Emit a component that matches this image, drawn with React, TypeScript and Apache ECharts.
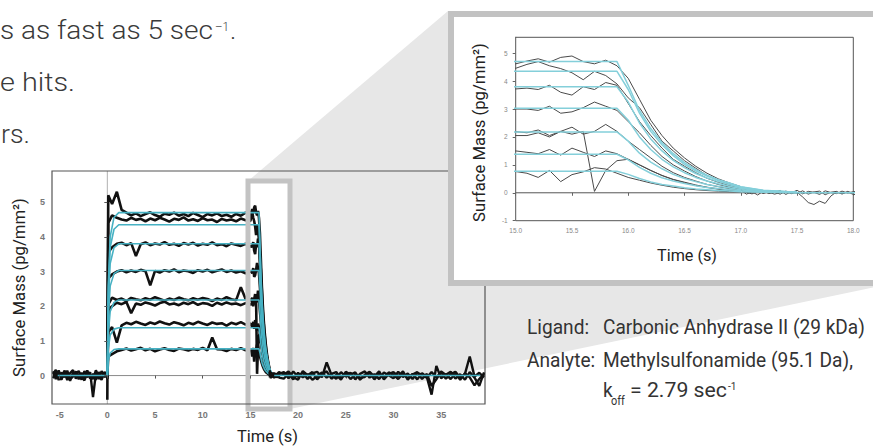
import React, { useEffect, useRef } from "react";
import * as echarts from "echarts";

// ---- axis ticks ----
const MAIN_X_TICKS = [-5, 0, 5, 10, 15, 20, 25, 30, 35];
const MAIN_Y_TICKS = [0, 1, 2, 3, 4, 5];
const INSET_X_TICKS = [15, 15.5, 16, 16.5, 17, 17.5, 18];
const INSET_Y_TICKS = [-1, 0, 1, 2, 3, 4, 5];

// ---- time grids (s) ----
const PRE_T = [-5.7, -5.4, -5.1, -4.8, -4.5, -4.2, -3.9, -3.6, -3.3, -3.0, -2.7, -2.4, -2.1, -1.8, -1.5, -1.2, -0.9, -0.6, -0.3, 0];
const RISE_T = [0, 0.1];
const PLATEAU_T = [0.5, 1, 1.5, 2, 2.5, 3, 3.5, 4, 4.5, 5, 5.5, 6, 6.5, 7, 7.5, 8, 8.5, 9, 9.5, 10, 10.5, 11, 11.5, 12, 12.5, 13, 13.5, 14, 14.5, 15];
const DECAY_T = [15.1, 15.2, 15.3, 15.4, 15.5, 15.6, 15.7, 15.8, 15.9, 16.0, 16.1, 16.2, 16.3, 16.4, 16.5, 16.6, 16.7, 16.8, 16.9, 17.0];
const TAIL_FINE_T = [17.05, 17.1, 17.15, 17.2, 17.25, 17.3, 17.35, 17.4, 17.45, 17.5, 17.55, 17.6, 17.65, 17.7, 17.75, 17.8, 17.85, 17.9, 17.95, 18.0];
const TAIL_COARSE_T = [18.5, 19, 19.5, 20, 20.5, 21, 21.5, 22, 22.5, 23, 23.5, 24, 24.5, 25, 25.5, 26, 26.5, 27, 27.5, 28, 28.5, 29, 29.5, 30, 30.5, 31, 31.5, 32, 32.5, 33, 33.5, 34, 34.5, 35, 35.5, 36, 36.5, 37, 37.5, 38, 38.5, 39, 39.5];

// ---- baseline before injection (pg/mm²) ----
const PRE_1 = [0.12, -0.10, 0.15, -0.06, 0.11, -0.13, 0.07, 0.16, -0.09, 0.05, -0.12, 0.13, -0.05, 0.10, -0.62, 0.06, -0.10, 0.13, -0.04, 0.0];
const PRE_2 = [-0.08, 0.11, -0.13, 0.09, -0.05, 0.14, -0.10, -0.03, 0.12, -0.11, 0.08, -0.07, 0.15, -0.09, 0.05, -0.12, 0.10, -0.05, 0.09, 0.0];
const PRE_3 = [0.04, 0.16, -0.02, -0.12, 0.14, 0.02, -0.15, 0.09, 0.03, 0.13, -0.04, -0.14, 0.08, 0.02, -0.10, 0.15, -0.02, -0.12, 0.10, 0.0];

// ---- measured traces: rise, plateau, dissociation ----
const TRACE1_RISE = [-0.70, 5.20];
const TRACE1_PLATEAU = [4.95, 5.30, 4.78, 4.70, 4.62, 4.68, 4.60, 4.66, 4.71, 4.63, 4.58, 4.67, 4.64, 4.70, 4.61, 4.66, 4.60, 4.69, 4.63, 4.57, 4.66, 4.62, 4.68, 4.60, 4.64, 4.58, 4.66, 4.61, 4.70, 4.62];
const TRACE1_DECAY = [4.72, 4.80, 4.68, 4.85, 4.90, 4.70, 4.62, 4.75, 4.55, 4.10, 3.35, 2.60, 2.05, 1.60, 1.25, 0.95, 0.70, 0.50, 0.35, 0.22];

const TRACE2_RISE = [0.05, 4.40];
const TRACE2_PLATEAU = [4.62, 4.55, 4.50, 4.47, 4.55, 4.49, 4.52, 4.45, 4.53, 4.48, 4.55, 4.50, 4.44, 4.52, 4.49, 4.56, 4.47, 4.51, 4.46, 4.54, 4.48, 4.50, 4.43, 4.52, 4.47, 4.50, 4.45, 4.53, 4.48, 4.46];
const TRACE2_DECAY = [4.60, 4.70, 4.55, 4.45, 4.30, 4.05, 4.35, 4.20, 3.90, 3.40, 3.05, 2.45, 1.85, 1.50, 1.15, 0.88, 0.62, 0.45, 0.30, 0.18];

const TRACE3_RISE = [0, 3.55];
const TRACE3_PLATEAU = [3.70, 3.80, 3.83, 3.76, 3.82, 3.45, 3.79, 3.84, 3.76, 3.81, 3.78, 3.85, 3.77, 3.80, 3.74, 3.82, 3.78, 3.83, 3.75, 3.80, 3.77, 3.84, 3.76, 3.79, 3.73, 3.81, 3.77, 3.74, 3.80, 3.72];
const TRACE3_DECAY = [3.75, 3.70, 3.85, 3.60, 3.50, 3.80, 3.70, 3.95, 3.85, 3.20, 2.55, 2.05, 1.60, 1.20, 0.95, 0.72, 0.52, 0.38, 0.26, 0.15];

const TRACE4_RISE = [-0.10, 2.80];
const TRACE4_PLATEAU = [2.92, 3.00, 3.04, 2.98, 3.03, 2.99, 3.05, 3.01, 2.60, 3.02, 2.97, 3.04, 3.00, 3.06, 2.98, 3.03, 3.01, 2.96, 3.04, 3.00, 3.05, 2.98, 3.02, 3.06, 2.99, 3.03, 2.97, 3.01, 2.95, 3.00];
const TRACE4_DECAY = [3.00, 2.95, 3.10, 2.85, 2.90, 3.05, 3.25, 3.10, 2.95, 2.55, 2.15, 1.70, 1.30, 1.00, 0.78, 0.58, 0.42, 0.30, 0.20, 0.12];

const TRACE5_RISE = [0.10, 2.05];
const TRACE5_PLATEAU = [2.25, 2.18, 2.22, 2.15, 2.24, 2.20, 2.17, 2.23, 2.19, 2.26, 2.21, 2.16, 2.22, 2.18, 2.25, 2.20, 2.17, 2.23, 2.19, 2.24, 2.21, 2.15, 2.22, 2.18, 2.26, 2.20, 2.17, 2.55, 2.21, 2.19];
const TRACE5_DECAY = [2.15, 2.25, 2.05, 2.20, 2.35, 2.10, 2.20, 2.45, 2.20, 1.85, 1.55, 1.25, 0.95, 0.72, 0.55, 0.42, 0.30, 0.22, 0.15, 0.10];

const TRACE6_RISE = [0, 1.90];
const TRACE6_PLATEAU = [2.00, 2.10, 2.06, 2.12, 1.80, 2.08, 2.04, 2.11, 2.07, 2.02, 2.09, 2.13, 2.05, 2.08, 2.03, 2.10, 2.06, 2.12, 2.04, 2.09, 2.07, 2.01, 2.10, 2.05, 2.11, 2.06, 2.08, 2.03, 2.09, 2.05];
const TRACE6_DECAY = [2.05, 2.15, 2.00, 2.20, 2.10, 2.20, 0.05, 0.80, 1.15, 1.20, 1.00, 0.80, 0.62, 0.47, 0.36, 0.26, 0.19, 0.13, 0.08, 0.05];

const TRACE7_RISE = [-0.05, 1.25];
const TRACE7_PLATEAU = [1.40, 0.95, 1.45, 1.52, 1.48, 1.55, 1.50, 1.46, 1.53, 1.49, 1.56, 1.51, 1.47, 1.54, 1.50, 1.45, 1.52, 1.48, 1.55, 1.50, 1.46, 1.53, 1.49, 1.51, 1.44, 1.52, 1.48, 1.54, 1.47, 1.50];
const TRACE7_DECAY = [1.45, 1.40, 1.55, 1.35, 1.60, 1.45, 1.30, 1.50, 1.40, 1.20, 1.00, 0.80, 0.62, 0.48, 0.38, 0.28, 0.20, 0.14, 0.10, 0.06];

const TRACE8_RISE = [0.02, 0.55];
const TRACE8_PLATEAU = [0.62, 0.70, 0.74, 0.78, 0.72, 0.76, 0.80, 0.73, 0.77, 0.70, 0.75, 0.79, 0.74, 0.71, 0.78, 0.76, 0.72, 0.77, 0.74, 0.80, 0.73, 1.10, 0.76, 0.75, 0.71, 0.77, 0.74, 0.79, 0.73, 0.76];
const TRACE8_DECAY = [0.70, 0.55, 0.80, 0.40, 0.65, 0.75, 0.90, 0.85, 0.70, 0.55, 0.45, 0.35, 0.27, 0.20, 0.15, 0.11, 0.08, 0.06, 0.04, 0.03];

// ---- baseline after dissociation ----
const TAIL1_FINE = [0.12, 0.05, 0.10, -0.02, 0.08, 0.03, -0.05, 0.06, 0.00, 0.09, -0.04, 0.05, 0.02, -0.06, 0.07, 0.01, -0.03, 0.06, -0.01, 0.04];
const TAIL1_COARSE = [0.10, -0.08, 0.12, -0.04, 0.09, -0.10, 0.06, 0.11, -0.05, 0.38, 0.02, -0.09, 0.10, -0.03, 0.08, -0.11, 0.05, 0.12, -0.06, 0.04, -0.10, 0.09, 0.01, -0.08, 0.11, -0.04, 0.06, -0.10, 0.08, 0.02, -0.06, 0.10, -0.05, 0.09, -0.09, 0.04, 0.11, -0.06, 0.05, 0.55, -0.03, 0.08, -0.05];
const TAIL2_FINE = [-0.05, 0.04, -0.08, 0.06, -0.03, 0.02, 0.08, -0.06, 0.04, -0.02, 0.07, -0.05, 0.03, 0.06, -0.07, 0.02, 0.05, -0.04, 0.03, -0.06];
const TAIL2_COARSE = [-0.09, 0.06, -0.11, 0.08, -0.05, 0.04, -0.12, -0.02, 0.09, -0.06, 0.05, 0.10, -0.08, 0.06, -0.10, 0.03, -0.06, -0.04, 0.08, -0.11, 0.05, -0.06, 0.09, 0.03, -0.10, 0.06, -0.08, 0.05, -0.11, 0.07, -0.04, -0.55, 0.28, -0.08, 0.04, -0.10, 0.06, -0.12, 0.07, -0.05, -0.28, -0.10, 0.05];
const TAIL3_FINE = [0.02, -0.04, 0.05, -0.02, 0.03, -0.05, 0.01, 0.04, -0.03, 0.02, -0.15, -0.35, -0.42, -0.30, -0.38, -0.12, 0.03, -0.04, 0.05, -0.02];
const TAIL4_COARSE = [0.03, 0.12, -0.05, -0.12, 0.13, 0.01, 0.10, -0.11, 0.04, 0.12, -0.09, 0.02, -0.12, 0.11, 0.03, 0.09, -0.12, 0.02, 0.11, -0.03, 0.12, -0.11, 0.04, 0.10, -0.02, 0.12, -0.12, 0.03, 0.10, -0.10, 0.05, -0.30, -0.11, 0.12, 0.02, 0.11, -0.09, 0.04, -0.12, 0.10, -0.06, -0.30, 0.09];

// ---- fitted curves (koff = 2.79 /s) ----
const FIT_RISE_T = [0, 0.1, 0.3, 0.7, 1.2];
const FIT_DECAY_T = [15.9, 16.0, 16.1, 16.2, 16.3, 16.4, 16.5, 16.6, 16.7, 16.8, 16.9, 17.0, 17.2, 17.5];
const FIT1_RISE = [0, 2.6, 4.0, 4.56, 4.70];
const FIT1_DECAY = [4.70, 3.85, 2.95, 2.30, 1.80, 1.40, 1.08, 0.83, 0.63, 0.47, 0.35, 0.22, 0.09, 0.02];
const FIT2_RISE = [0, 2.4, 3.7, 4.22, 4.35];
const FIT2_DECAY = [4.35, 3.70, 2.85, 2.20, 1.72, 1.33, 1.02, 0.78, 0.60, 0.45, 0.33, 0.21, 0.08, 0.02];
const FIT3_RISE = [0, 2.1, 3.23, 3.69, 3.80];
const FIT3_DECAY = [3.80, 3.25, 2.50, 1.93, 1.50, 1.16, 0.90, 0.69, 0.53, 0.40, 0.29, 0.19, 0.07, 0.02];
const FIT4_RISE = [0, 1.67, 2.58, 2.94, 3.03];
const FIT4_DECAY = [3.03, 2.60, 2.00, 1.55, 1.20, 0.93, 0.72, 0.55, 0.42, 0.32, 0.23, 0.15, 0.06, 0.01];
const FIT5_RISE = [0, 1.2, 1.85, 2.11, 2.18];
const FIT5_DECAY = [2.18, 1.85, 1.42, 1.10, 0.86, 0.66, 0.51, 0.40, 0.30, 0.23, 0.17, 0.11, 0.04, 0.01];
const FIT6_RISE = [0, 0.76, 1.17, 1.34, 1.38];
const FIT6_DECAY = [1.38, 1.18, 0.91, 0.70, 0.54, 0.42, 0.33, 0.25, 0.19, 0.15, 0.11, 0.07, 0.03, 0.01];
const FIT7_RISE = [0, 0.42, 0.65, 0.75, 0.77];
const FIT7_DECAY = [0.77, 0.66, 0.51, 0.39, 0.30, 0.24, 0.18, 0.14, 0.11, 0.08, 0.06, 0.04, 0.02, 0.00];
const FIT_BASE_PRE_T = [-5.2, 0];
const FIT_BASE_POST_T = [17.5, 39.1];
const FIT_BASE_VALUES = [0, 0];

const pairs = (ts: number[], vs: number[]) => ts.map((t, i) => [t, vs[i]]);

const TRACES = [
  [TRACE1_RISE, TRACE1_PLATEAU, TRACE1_DECAY],
  [TRACE2_RISE, TRACE2_PLATEAU, TRACE2_DECAY],
  [TRACE3_RISE, TRACE3_PLATEAU, TRACE3_DECAY],
  [TRACE4_RISE, TRACE4_PLATEAU, TRACE4_DECAY],
  [TRACE5_RISE, TRACE5_PLATEAU, TRACE5_DECAY],
  [TRACE6_RISE, TRACE6_PLATEAU, TRACE6_DECAY],
  [TRACE7_RISE, TRACE7_PLATEAU, TRACE7_DECAY],
  [TRACE8_RISE, TRACE8_PLATEAU, TRACE8_DECAY],
];
const FITS = [
  [FIT1_RISE, FIT1_DECAY],
  [FIT2_RISE, FIT2_DECAY],
  [FIT3_RISE, FIT3_DECAY],
  [FIT4_RISE, FIT4_DECAY],
  [FIT5_RISE, FIT5_DECAY],
  [FIT6_RISE, FIT6_DECAY],
  [FIT7_RISE, FIT7_DECAY],
];

const traceData = TRACES.map(([r, p, d]) => [...pairs(RISE_T, r), ...pairs(PLATEAU_T, p), ...pairs(DECAY_T, d)]);
const preData = [pairs(PRE_T, PRE_1), pairs(PRE_T, PRE_2), pairs(PRE_T, PRE_3)];
const tailData = [
  [[17.0, 0.15], ...pairs(TAIL_FINE_T, TAIL1_FINE), ...pairs(TAIL_COARSE_T, TAIL1_COARSE)],
  [[17.0, 0.10], ...pairs(TAIL_FINE_T, TAIL2_FINE), ...pairs(TAIL_COARSE_T, TAIL2_COARSE)],
  [[17.0, 0.12], ...pairs(TAIL_FINE_T, TAIL3_FINE)],
];
const tailMainExtra = [[[17.0, 0.12], [17.5, -0.06], [18.0, 0.1], ...pairs(TAIL_COARSE_T, TAIL4_COARSE)]];
const fitLevelData = FITS.map(([r, d]) => [...pairs(FIT_RISE_T, r), ...pairs(FIT_DECAY_T, d)]);
const fitBasePre = pairs(FIT_BASE_PRE_T, FIT_BASE_VALUES);
const fitBasePost = pairs(FIT_BASE_POST_T, FIT_BASE_VALUES);
const fitData = [...fitLevelData, fitBasePre, fitBasePost];

let measureCtx: CanvasRenderingContext2D | null = null;
function measure(text: string, font: string) {
  if (!measureCtx) measureCtx = document.createElement("canvas").getContext("2d");
  measureCtx!.font = font;
  return measureCtx!.measureText(text).width;
}

function txt(
  text: string,
  x: number,
  y: number,
  o: { size: number; width?: number; color?: string; weight?: number | string; family?: string; align?: string; rotation?: number; scale?: number }
) {
  const family = o.family || "Roboto";
  const weight = o.weight ?? 400;
  const w = measure(text, `${weight} ${o.size}px ${family}`);
  const scaleX = o.scale ?? (o.width ? o.width / w : 1);
  const align = o.align || "left";
  return {
    type: "text",
    x,
    y,
    z: 40,
    rotation: o.rotation || 0,
    scaleX,
    scaleY: 1,
    silent: true,
    style: {
      text,
      fontSize: o.size,
      fontWeight: weight,
      fontFamily: family,
      fill: o.color || "#333",
      textAlign: align,
      align,
      textVerticalAlign: "middle",
      verticalAlign: "middle",
    },
  };
}

// closed outline drawn as a polyline (stroke only, no fill)
function outline(x: number, y: number, w: number, h: number, stroke: string, lineWidth: number, z: number) {
  return {
    type: "polyline",
    z,
    silent: true,
    shape: { points: [[x, y], [x + w, y], [x + w, y + h], [x, y + h], [x, y - lineWidth / 2]] },
    style: { stroke, lineWidth, fill: null },
  };
}

export default function App() {
  const ref = useRef<HTMLDivElement>(null);
  useEffect(() => {
    if (!ref.current) return;
    const chart = echarts.init(ref.current, undefined, { renderer: "svg" });

    const mainTickLabel = { fontSize: 9, fontWeight: "bold", color: "#777", fontFamily: "Liberation Sans, Arial, sans-serif" };
    const insetTickLabel = { fontSize: 6.5, color: "#888", fontFamily: "Liberation Sans, Arial, sans-serif" };

    const mainLine = (d: any, z: number, color: string, width: number) => ({
      type: "line", xAxisIndex: 0, yAxisIndex: 0, data: d, symbol: "none", silent: true, clip: false, z,
      lineStyle: { color, width },
    });
    const insetLine = (d: any, z: number, color: string, width: number) => ({
      type: "line", xAxisIndex: 1, yAxisIndex: 1, data: d, symbol: "none", silent: true, clip: true, z,
      lineStyle: { color, width },
    });

    const series: any[] = [];
    series.push(mainLine([[0, -0.82], [0, 5.9]], 3, "#b0b0b0", 1));
    series.push(mainLine([[0, 0], [39.6, 0]], 3, "#8a8a8a", 1));
    preData.forEach((d) => series.push(mainLine(d, 4, "#111", 2.4)));
    traceData.forEach((d) => series.push(mainLine(d, 4, "#111", 2.6)));
    fitLevelData.forEach((d) => series.push(mainLine(d, 5, "#46b1c3", 1.6)));
    series.push(mainLine(fitBasePre, 5, "#46b1c3", 1.6));
    [...tailData.slice(0, 2), ...tailMainExtra].forEach((d) => series.push(mainLine(d, 23, "#111", 2.4)));
    series.push(mainLine(fitBasePost, 24, "#46b1c3", 1.6));
    // inset
    series.push(insetLine([[15, 0], [18, 0]], 32, "#555", 1));
    [...traceData, ...tailData].forEach((d) => series.push(insetLine(d, 33, "#4a4a4a", 1)));
    fitData.forEach((d) => series.push(insetLine(d, 34, "#84cfda", 1.5)));

    const annScale = 250 / measure("Methylsulfonamide (95.1 Da),", "400 21px Roboto");

    const elements: any[] = [
      // wedge connecting zoom box and inset, in two convex pieces
      {
        type: "polygon",
        z: 20,
        silent: true,
        shape: { points: [[248, 181], [290, 181], [290, 145.3]] },
        style: { fill: "#e7e7e7" },
      },
      {
        type: "polygon",
        z: 20,
        silent: true,
        shape: { points: [[290, 145.3], [448, 11], [900, 11], [900, 282], [290, 409]] },
        style: { fill: "#e7e7e7" },
      },
      // zoom box
      outline(248, 181, 42, 228, "#c3c3c3", 5, 21),
      // main frame
      outline(52, 171, 433, 233, "#555", 1.2, 22),
      // inset panel
      {
        type: "rect",
        z: 30,
        silent: true,
        shape: { x: 451, y: 14, width: 460, height: 269 },
        style: { fill: "#ffffff", stroke: "#c2c2c2", lineWidth: 6 },
      },
      // inset frame
      outline(515.7, 37.3, 337.6, 183.4, "#555", 1, 31),
      // top text lines
      txt("s as fast as 5 sec", 0, 30, { size: 26, width: 213, weight: 300, color: "#3a3a3a" }),
      txt("\u20131", 215, 27, { size: 12, width: 14, weight: 300, color: "#3a3a3a" }),
      txt(".", 230, 30, { size: 26, weight: 300, color: "#3a3a3a" }),
      txt("e hits.", 0, 82, { size: 26, width: 75, weight: 300, color: "#3a3a3a" }),
      txt("rs.", 1, 134, { size: 26, width: 29, weight: 300, color: "#3a3a3a" }),
      // main chart axis names
      txt("Surface Mass (pg/mm\u00b2)", 19, 287.5, { size: 17, width: 179, align: "center", rotation: Math.PI / 2, color: "#222" }),
      txt("Time (s)", 267.5, 436.5, { size: 16, width: 61, align: "center", color: "#222" }),
      // inset axis names
      txt("Surface Mass (pg/mm\u00b2)", 478.5, 132.5, { size: 17, width: 179, align: "center", rotation: Math.PI / 2, color: "#222" }),
      txt("Time (s)", 687, 255.5, { size: 17, width: 60, align: "center", color: "#222" }),
      // annotation
      txt("Ligand:", 527, 326.5, { size: 21, scale: annScale, color: "#333" }),
      txt("Carbonic Anhydrase II (29 kDa)", 603, 326.5, { size: 21, width: 262, color: "#333" }),
      txt("Analyte:", 527, 360, { size: 21, scale: annScale, color: "#333" }),
      txt("Methylsulfonamide (95.1 Da),", 603, 360, { size: 21, scale: annScale, color: "#333" }),
      txt("k", 603, 390, { size: 21, scale: annScale, color: "#333" }),
      txt("off", 611, 401, { size: 12, scale: annScale, color: "#333" }),
      txt("= 2.79 sec", 630, 390, { size: 21, width: 97, color: "#333" }),
      txt("-1", 728, 386, { size: 11, scale: annScale, color: "#333" }),
    ];

    chart.setOption({
      animation: false,
      grid: [
        { left: 52, top: 171, width: 433, height: 233, show: false },
        { left: 515.7, top: 37.3, width: 337.6, height: 183.4, show: false },
      ],
      xAxis: [
        {
          type: "value", gridIndex: 0, min: -5.8, max: 39.6, z: 22,
          axisLine: { show: false }, splitLine: { show: false }, splitArea: { show: false },
          axisTick: { show: true, length: 3, lineStyle: { color: "#555" }, customValues: MAIN_X_TICKS },
          axisLabel: { ...mainTickLabel, margin: 6, customValues: MAIN_X_TICKS },
        },
        {
          type: "value", gridIndex: 1, min: 15, max: 18, z: 31,
          axisLine: { show: false }, splitLine: { show: false }, splitArea: { show: false },
          axisTick: { show: true, length: 3, lineStyle: { color: "#666" }, customValues: INSET_X_TICKS },
          axisLabel: { ...insetTickLabel, margin: 6, customValues: INSET_X_TICKS, formatter: (v: number) => v.toFixed(1) },
        },
      ],
      yAxis: [
        {
          type: "value", gridIndex: 0, min: -0.82, max: 5.9, z: 22,
          axisLine: { show: false }, splitLine: { show: false }, splitArea: { show: false },
          axisTick: { show: true, length: 3, lineStyle: { color: "#555" }, customValues: MAIN_Y_TICKS },
          axisLabel: { ...mainTickLabel, margin: 7, customValues: MAIN_Y_TICKS },
        },
        {
          type: "value", gridIndex: 1, min: -1, max: 5.57, z: 31,
          axisLine: { show: false }, splitLine: { show: false }, splitArea: { show: false },
          axisTick: { show: true, length: 3, lineStyle: { color: "#666" }, customValues: INSET_Y_TICKS },
          axisLabel: { ...insetTickLabel, margin: 8, customValues: INSET_Y_TICKS },
        },
      ],
      graphic: { elements },
      series,
    });

    return () => chart.dispose();
  }, []);

  return <div ref={ref} style={{ position: "fixed", left: 0, top: 0, width: 873, height: 446, background: "#fff" }} />;
}
